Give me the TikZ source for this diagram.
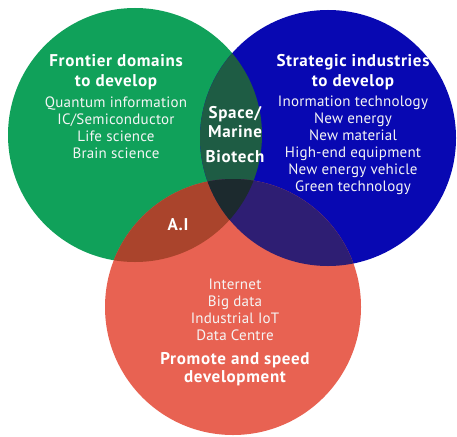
\documentclass[tikz,border=0pt]{standalone}
\usepackage{fontspec}
\setmainfont{PT Sans}
\newfontfamily\headfont[LetterSpace=4]{PT Sans}
\newfontfamily\bodyfont[LetterSpace=1.5]{PT Sans}
\begin{document}
\begin{tikzpicture}[x=1pt,y=-1pt,
  head/.style={text=white,font=\headfont\bfseries\fontsize{17}{20}\selectfont,align=center,inner sep=0pt},
  body/.style={text=white!92!gray,font=\bodyfont\fontsize{15}{17}\selectfont,align=center,inner sep=0pt}]
\definecolor{cgreen}{RGB}{16,161,90}
\definecolor{cblue}{RGB}{8,8,178}
\definecolor{cred}{RGB}{232,98,82}
\definecolor{cgb}{RGB}{30,92,68}
\definecolor{cgr}{RGB}{170,68,44}
\definecolor{cbr}{RGB}{46,30,115}
\definecolor{cgbr}{RGB}{28,42,46}
\useasboundingbox (0,0) rectangle (457,436);
\fill[white] (0,0) rectangle (457,436);
% the three sets
\def\setG{(135,135) circle (127)}
\def\setB{(328,138) circle (128)}
\def\setR{(233,307) circle (128)}
\fill[cgreen] \setG;
\fill[cblue] \setB;
\fill[cred] \setR;
% overlaps
\begin{scope}\clip \setG; \fill[cgb] \setB; \end{scope}
\begin{scope}\clip \setG; \fill[cgr] \setR; \end{scope}
\begin{scope}\clip \setB; \fill[cbr] \setR; \end{scope}
\begin{scope}\clip \setG; \clip \setB; \fill[cgbr] \setR; \end{scope}
% labels
\node[head] (gh) at (116,72) {Frontier domains\\to develop};
\node[body] (gl) at (116,128) {Quantum information\\IC/Semiconductor\\Life science\\Brain science};
\node[head] (bh) at (353,72) {Strategic industries\\to develop};
\node[body] (bl) at (353,145) {Inormation technology\\New energy\\New material\\High-end equipment\\New energy vehicle\\Green technology};
\node[head,font=\headfont\bfseries\fontsize{17}{19}\selectfont] (sm) at (235,122) {Space/\\Marine};
\node[head] (bt) at (235,157) {Biotech};
\node[head] (ai) at (178,225) {A.I};
\node[body] (rl) at (235,309.5) {Internet\\Big data\\Industrial IoT\\Data Centre};
\node[head,font=\headfont\bfseries\fontsize{17}{18}\selectfont] (rh) at (235,369) {Promote and speed\\development};
\end{tikzpicture}
\end{document}
